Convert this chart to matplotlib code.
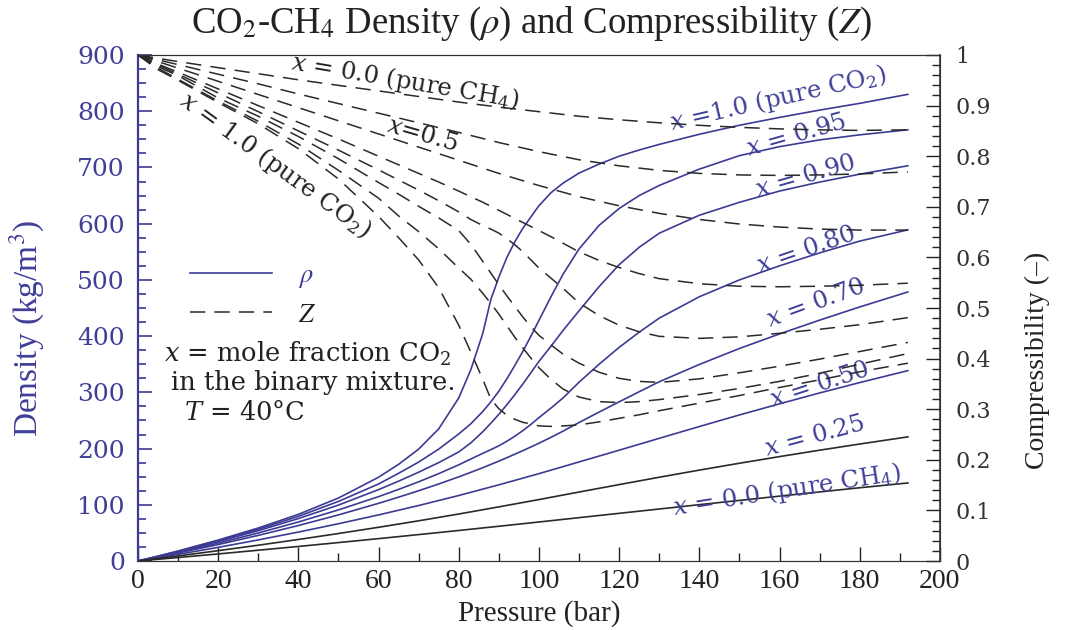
import matplotlib
matplotlib.use("Agg")
import matplotlib.pyplot as plt
from matplotlib.lines import Line2D
from matplotlib.ticker import MultipleLocator

plt.rcParams['font.family'] = ['Liberation Serif', 'DejaVu Serif']
plt.rcParams['mathtext.fontset'] = 'stix'

# ---------------- data ----------------
P_FINE = [0, 5, 10, 20, 30, 40, 50, 60, 65, 70, 75, 80, 83, 86, 88, 90, 92, 94, 96, 98,
          100, 103, 106, 110, 115, 120, 125, 130, 140, 150, 160, 170, 180, 192]
P_COARSE = [0, 10, 20, 30, 40, 50, 60, 70, 80, 90, 100, 110, 120, 130, 140, 150, 160, 170, 180, 192]

RHO_100 = [0, 8.7, 17.8, 37.3, 58.7, 83, 112, 149, 172, 199, 235, 290, 340, 405, 465, 505, 540, 568, 592, 612,
           632, 655, 672, 690, 706, 720, 731, 741, 759, 775, 789, 802, 814, 830]
Z_100 = [1, 0.971, 0.950, 0.906, 0.864, 0.815, 0.755, 0.681, 0.639, 0.595, 0.540, 0.466, 0.413, 0.359, 0.320,
         0.301, 0.288, 0.280, 0.274, 0.271, 0.267, 0.266, 0.267, 0.269, 0.275, 0.282, 0.289, 0.297, 0.312,
         0.327, 0.343, 0.358, 0.374, 0.391]
RHO_95 = [0, 8.4, 17.2, 36, 56.5, 79.5, 106, 137, 156, 176, 199, 226, 244, 266, 283, 302, 324, 348, 373, 400,
          428, 470, 510, 555, 597, 627, 650, 668, 697, 721, 737, 749, 758, 767]
Z_95 = [1, 0.974, 0.952, 0.909, 0.869, 0.824, 0.772, 0.717, 0.682, 0.651, 0.617, 0.579, 0.557, 0.529, 0.509,
        0.488, 0.465, 0.442, 0.421, 0.401, 0.382, 0.359, 0.340, 0.324, 0.315, 0.313, 0.315, 0.319, 0.329,
        0.341, 0.355, 0.371, 0.389, 0.410]
RHO_90 = [0, 8.1, 16.5, 34.6, 54, 75.5, 99.5, 127, 142, 158, 175, 194, 210, 230, 245, 261, 278, 296, 315, 335,
          355, 382, 410, 445, 488, 527, 558, 583, 615, 638, 658, 674, 688, 703]
Z_90 = [1, 0.977, 0.959, 0.915, 0.879, 0.839, 0.795, 0.748, 0.725, 0.701, 0.678, 0.653, 0.626, 0.592, 0.569,
        0.546, 0.524, 0.503, 0.482, 0.463, 0.446, 0.427, 0.409, 0.391, 0.373, 0.361, 0.355, 0.353, 0.360,
        0.372, 0.385, 0.399, 0.414, 0.432]
RHO_80 = [0, 7.53, 15.3, 31.9, 49.9, 69.4, 90.9, 114.5, 127.4, 140.9, 155.4, 171.1, 181.4, 191.5, 198, 205,
          213, 222, 232, 243, 255, 272, 290, 318, 350, 380, 407, 432, 470, 500, 525, 548, 569, 589]
Z_80 = [1, 0.980, 0.962, 0.925, 0.888, 0.850, 0.812, 0.773, 0.753, 0.733, 0.712, 0.690, 0.675, 0.663, 0.656,
        0.648, 0.637, 0.625, 0.611, 0.595, 0.579, 0.559, 0.539, 0.510, 0.485, 0.466, 0.453, 0.444, 0.440,
        0.443, 0.450, 0.458, 0.467, 0.481]
RHO_70 = [0, 6.97, 14.2, 29.3, 45.6, 63.1, 82.0, 102.6, 113.6, 125.0, 137.0, 149.7, 157.7, 166.0, 171.8,
          177.7, 183.8, 190.0, 196.3, 202.9, 209.5, 219.9, 231.0, 246.3, 264.9, 283.1, 301.1, 318.8, 349.6,
          378.0, 403.9, 428.4, 451.9, 478.5]
Z_70 = [1, 0.982, 0.966, 0.933, 0.900, 0.867, 0.834, 0.800, 0.783, 0.766, 0.749, 0.731, 0.720, 0.709, 0.701,
        0.693, 0.685, 0.677, 0.669, 0.661, 0.653, 0.641, 0.628, 0.611, 0.594, 0.580, 0.568, 0.558, 0.548,
        0.543, 0.542, 0.543, 0.545, 0.549]
RHO_50 = [0, 11.8, 24.3, 37.5, 51.5, 66.3, 82.0, 98.7, 116.5, 135.5, 155.4, 176.2, 197.1, 218.2, 239.2,
          259.8, 279.6, 298.9, 317.4, 338.6]
Z_50 = [1, 0.974, 0.948, 0.922, 0.896, 0.870, 0.844, 0.818, 0.792, 0.766, 0.742, 0.720, 0.702, 0.687, 0.675,
        0.666, 0.660, 0.656, 0.654, 0.654]
RHO_25 = [0, 9.0, 18.4, 28.1, 38.3, 48.9, 60.0, 71.5, 83.6, 96.3, 109.3, 122.7, 135.9, 149.0, 161.7, 173.9,
          185.7, 197.1, 208.1, 220.8]
Z_25 = [1, 0.981, 0.962, 0.943, 0.923, 0.904, 0.885, 0.866, 0.847, 0.827, 0.809, 0.793, 0.781, 0.772, 0.766,
        0.763, 0.762, 0.763, 0.765, 0.769]
RHO_0 = [0, 6.2, 12.6, 19.2, 25.9, 32.8, 39.8, 47.0, 54.3, 61.8, 69.4, 77.1, 84.8, 92.5, 100.2, 107.8, 115.4,
         122.9, 130.3, 138.8]
Z_0 = [1, 0.987, 0.975, 0.963, 0.951, 0.940, 0.929, 0.918, 0.907, 0.897, 0.888, 0.879, 0.872, 0.866, 0.861,
       0.857, 0.854, 0.852, 0.851, 0.852]

X_TICKS = [0, 20, 40, 60, 80, 100, 120, 140, 160, 180, 200]
RHO_TICKS = [0, 100, 200, 300, 400, 500, 600, 700, 800, 900]
Z_TICKS = [0, 0.1, 0.2, 0.3, 0.4, 0.5, 0.6, 0.7, 0.8, 0.9, 1.0]
Z_TICK_LABELS = ['0', '0.1', '0.2', '0.3', '0.4', '0.5', '0.6', '0.7', '0.8', '0.9', '1']

BLUE = '#3b3b93'
LBLUE = '#3f3f98'
DARK = '#2a2a2a'
DASH = (0, (10, 6))

series = [
    (P_FINE, RHO_100, Z_100, BLUE),
    (P_FINE, RHO_95, Z_95, BLUE),
    (P_FINE, RHO_90, Z_90, BLUE),
    (P_FINE, RHO_80, Z_80, BLUE),
    (P_FINE, RHO_70, Z_70, BLUE),
    (P_COARSE, RHO_50, Z_50, BLUE),
    (P_COARSE, RHO_25, Z_25, DARK),
    (P_COARSE, RHO_0, Z_0, DARK),
]

fig = plt.figure(figsize=(10.67, 6.30), dpi=100)
ax = fig.add_axes([0.1293, 0.1095, 0.7516, 0.8032])
ax2 = ax.twinx()

for p, rho, z, c in series:
    ax.plot(p, rho, color=c, lw=1.2, solid_joinstyle='round')
    ax2.plot(p, z, color=DARK, lw=1.1, linestyle=DASH)

ax.set_xlim(0, 200)
ax.set_ylim(0, 900)
ax2.set_ylim(0, 1)

ax.set_xticks(X_TICKS)
ax.xaxis.set_minor_locator(MultipleLocator(10))
ax.set_yticks(RHO_TICKS)
ax.yaxis.set_minor_locator(MultipleLocator(25))
ax2.set_yticks(Z_TICKS)
ax2.set_yticklabels(Z_TICK_LABELS)
ax2.yaxis.set_minor_locator(MultipleLocator(0.02))

ax.tick_params(axis='x', which='major', direction='in', length=10, width=1, labelsize=20, pad=6,
               colors='#222222')
ax.tick_params(axis='x', which='minor', direction='in', length=6, width=1, colors='#222222')
ax.tick_params(axis='y', which='major', direction='in', length=10, width=1.2, colors=BLUE, pad=9.5)
ax.tick_params(axis='y', which='minor', direction='in', length=6, width=1.2, colors=BLUE)
ax2.tick_params(axis='y', which='major', direction='in', length=10, width=1, colors='#222222', pad=11)
ax2.tick_params(axis='y', which='minor', direction='in', length=6, width=1, colors='#222222')

for lbl in ax.get_yticklabels():
    lbl.set_fontfamily('DejaVu Serif')
    lbl.set_fontsize(18)
    lbl.set_color(LBLUE)
for lbl in ax2.get_yticklabels():
    lbl.set_fontfamily('DejaVu Serif')
    lbl.set_fontsize(16)
    lbl.set_color('#333333')

ax.spines['left'].set_color(BLUE)
ax.spines['left'].set_linewidth(1.6)
ax2.spines['left'].set_visible(False)
for s in ['top', 'bottom', 'right']:
    ax.spines[s].set_color('#333333')
    ax2.spines[s].set_color('#333333')
ax2.spines['right'].set_linewidth(1.2)

ax.set_xlabel('Pressure (bar)', fontsize=21, color='#222222', labelpad=4)
ax.set_ylabel('Density (kg/m$^3$)', fontsize=24, color=LBLUE)
ax.yaxis.set_label_coords(-0.113, 0.46)
ax2.set_ylabel('Compressibility (–)', fontsize=20, color='#222222')
ax2.yaxis.set_label_coords(1.106, 0.397)

fig.text(0.498, 0.962, r'CO$_2$-CH$_4$ Density ($\rho$) and Compressibility ($Z$)',
         ha='center', va='center', fontsize=26.5, color='#222222')

# curve labels
lab_kw = dict(ha='center', va='center', rotation_mode='anchor', fontfamily='DejaVu Serif',
              math_fontfamily='dejavuserif', fontsize=17.5)
ax.text(159.6, 823, r'$x$ =1.0 (pure CO$_2$)', rotation=12.8, color=LBLUE, **lab_kw)
ax.text(164.3, 757, r'$x$ = 0.95', rotation=16, color=LBLUE, **lab_kw)
ax.text(166.6, 683, r'$x$ = 0.90', rotation=16, color=LBLUE, **lab_kw)
ax.text(166.6, 553, r'$x$ = 0.80', rotation=19, color=LBLUE, **lab_kw)
ax.text(169.0, 459, r'$x$ = 0.70', rotation=20, color=LBLUE, **lab_kw)
ax.text(170.0, 313, r'$x$ = 0.50', rotation=18, color=LBLUE, **lab_kw)
ax.text(168.8, 221, r'$x$ = 0.25', rotation=15, color=LBLUE, **lab_kw)
ax.text(161.8, 126, r'$x$ = 0.0 (pure CH$_4$)', rotation=8.8, color=LBLUE, **lab_kw)

ax2.text(66.6, 0.947, r'$x$ = 0.0 (pure CH$_4$)', rotation=-9.6, color='#222222', **lab_kw)
ax2.text(70.8, 0.842, r'$x$=0.5', rotation=-16, color='#222222', **lab_kw)
ax2.text(34.2, 0.783, r'$x$ = 1.0 (pure CO$_2$)', rotation=-36, color='#222222', **lab_kw)

# legend
handles = [Line2D([], [], color=BLUE, lw=1.2), Line2D([], [], color=DARK, lw=1.1, linestyle=DASH)]
leg = ax.legend(handles, [r'$\rho$', r'$Z$'], loc='upper left', bbox_to_anchor=(0.035, 0.635),
                frameon=False, handlelength=3.1, fontsize=19, labelspacing=0.5, handletextpad=1.0)
leg.get_texts()[0].set_color(LBLUE)
leg.get_texts()[1].set_color('#222222')

note_kw = dict(transform=ax.transAxes, fontfamily='DejaVu Serif', math_fontfamily='dejavuserif',
               fontsize=18.5, color='#222222', va='center', ha='left')
ax.text(0.033, 0.409, r'$x$ = mole fraction CO$_2$', **note_kw)
ax.text(0.041, 0.352, 'in the binary mixture.', **note_kw)
ax.text(0.058, 0.294, r'$T$ = 40°C', **note_kw)

fig.savefig('out.png', dpi=100)
